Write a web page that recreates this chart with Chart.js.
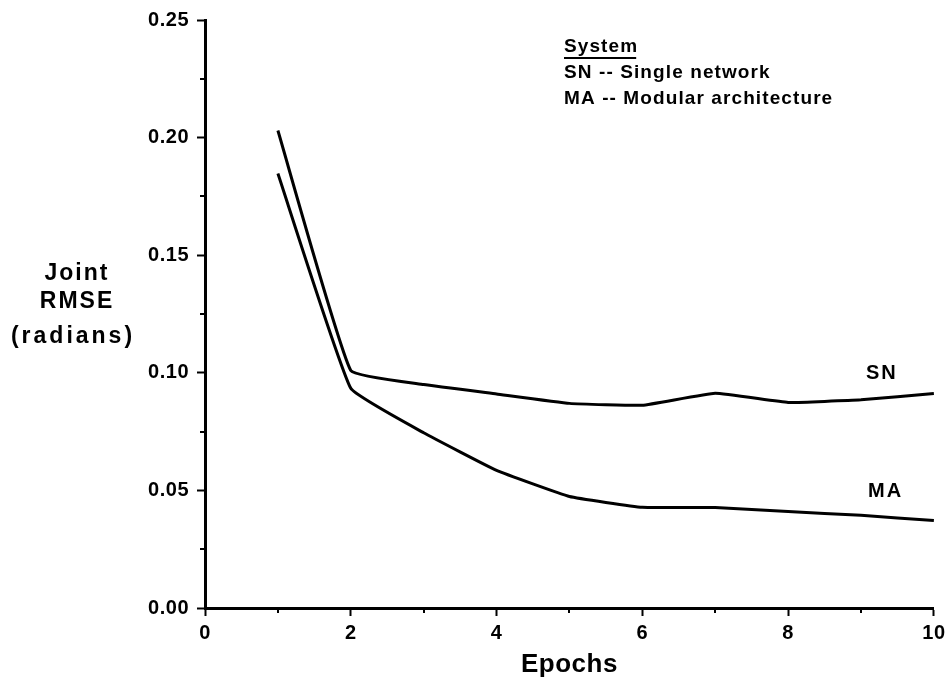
<!DOCTYPE html>
<html>
<head>
<meta charset="utf-8">
<script src="https://cdn.jsdelivr.net/npm/chart.js@4/dist/chart.umd.min.js"></script>
<style>
  html, body { margin: 0; padding: 0; background: #fff; }
  #wrap { width: 950px; height: 683px; }
</style>
</head>
<body>
<div id="wrap"><canvas id="c" width="950" height="683"></canvas></div>
<script>
const epochs = [1, 2, 3, 4, 5, 6, 7, 8, 9, 10];
const snRmse = [0.203, 0.101, 0.095, 0.091, 0.087, 0.0862, 0.0913, 0.0874, 0.0885, 0.0912];
const maRmse = [0.1847, 0.0934, 0.0745, 0.0585, 0.0474, 0.0428, 0.0427, 0.041, 0.0394, 0.0372];
const xMinorTicks = [1, 3, 5, 7, 9];
const yMinorTicks = [0.025, 0.075, 0.125, 0.175, 0.225];

const FONT = '"Liberation Sans", Arial, Helvetica, sans-serif';

const toPts = arr => epochs.map((e, i) => ({ x: e, y: arr[i] }));

// minor ticks + all the free text (axis titles, legend, line labels)
const decorPlugin = {
  id: 'decor',
  beforeDraw(chart) {
    chart.ctx.letterSpacing = '0.5px';
  },
  afterDraw(chart) {
    const { ctx, scales: { x, y } } = chart;
    ctx.save();
    ctx.strokeStyle = '#000';
    ctx.lineWidth = 2;
    const x0 = x.getPixelForValue(0);
    const y0 = y.getPixelForValue(0);
    yMinorTicks.forEach(v => {
      const py = Math.round(y.getPixelForValue(v));
      ctx.beginPath(); ctx.moveTo(x0, py); ctx.lineTo(x0 - 5, py); ctx.stroke();
    });
    xMinorTicks.forEach(v => {
      const px = Math.round(x.getPixelForValue(v));
      ctx.beginPath(); ctx.moveTo(px, y0); ctx.lineTo(px, y0 + 5); ctx.stroke();
    });

    ctx.fillStyle = '#000';
    ctx.textBaseline = 'middle';

    // x title
    ctx.textAlign = 'center';
    ctx.letterSpacing = '0.5px';
    ctx.font = 'bold 26px ' + FONT;
    ctx.fillText('Epochs', (x.left + x.right) / 2, 665);

    // y title, horizontal, three lines
    ctx.font = 'bold 23px ' + FONT;
    ctx.letterSpacing = '2px';
    ctx.fillText('Joint', 77, 274);
    ctx.fillText('RMSE', 77, 302);
    ctx.letterSpacing = '3px';
    ctx.fillText('(radians)', 73, 337);

    // legend block
    ctx.textAlign = 'left';
    ctx.font = 'bold 19px ' + FONT;
    ctx.letterSpacing = '1.1px';
    ctx.fillText('System', 564, 47);
    const w = ctx.measureText('System').width;
    ctx.lineWidth = 1.8;
    ctx.beginPath(); ctx.moveTo(564, 58); ctx.lineTo(564 + w - 2, 58); ctx.stroke();
    ctx.fillText('SN -- Single network', 564, 73);
    ctx.fillText('MA -- Modular architecture', 564, 99);

    // series labels
    ctx.font = 'bold 20px ' + FONT;
    ctx.letterSpacing = '2px';
    ctx.fillText('SN', 866, 373);
    ctx.fillText('MA', 868, 491);
    ctx.restore();
  }
};

new Chart(document.getElementById('c'), {
  type: 'line',
  data: {
    datasets: [
      { label: 'SN', data: toPts(snRmse), borderColor: '#000', borderWidth: 3, pointRadius: 0, tension: 0.1 },
      { label: 'MA', data: toPts(maRmse), borderColor: '#000', borderWidth: 3, pointRadius: 0, tension: 0.1 }
    ]
  },
  options: {
    responsive: false,
    animation: false,
    devicePixelRatio: 1,
    layout: { padding: { left: 0, right: 13, top: 15, bottom: 0 } },
    plugins: { legend: { display: false }, tooltip: { enabled: false } },
    scales: {
      x: {
        type: 'linear', min: 0, max: 10,
        afterFit: s => { s.height = 75; },
        border: { display: true, color: '#000', width: 3 },
        grid: { drawOnChartArea: false, drawTicks: true, tickLength: 8, tickColor: '#000', tickWidth: 2 },
        ticks: { stepSize: 2, color: '#000', padding: 5, maxRotation: 0, font: { family: FONT, size: 20, weight: 'bold' } }
      },
      y: {
        min: 0, max: 0.25,
        afterFit: s => { s.width = 205; },
        border: { display: true, color: '#000', width: 3 },
        grid: { drawOnChartArea: false, drawTicks: true, tickLength: 8, tickColor: '#000', tickWidth: 2 },
        ticks: { stepSize: 0.05, color: '#000', padding: 8, callback: v => v.toFixed(2), font: { family: FONT, size: 20, weight: 'bold' } }
      }
    }
  },
  plugins: [decorPlugin]
});
</script>
</body>
</html>
